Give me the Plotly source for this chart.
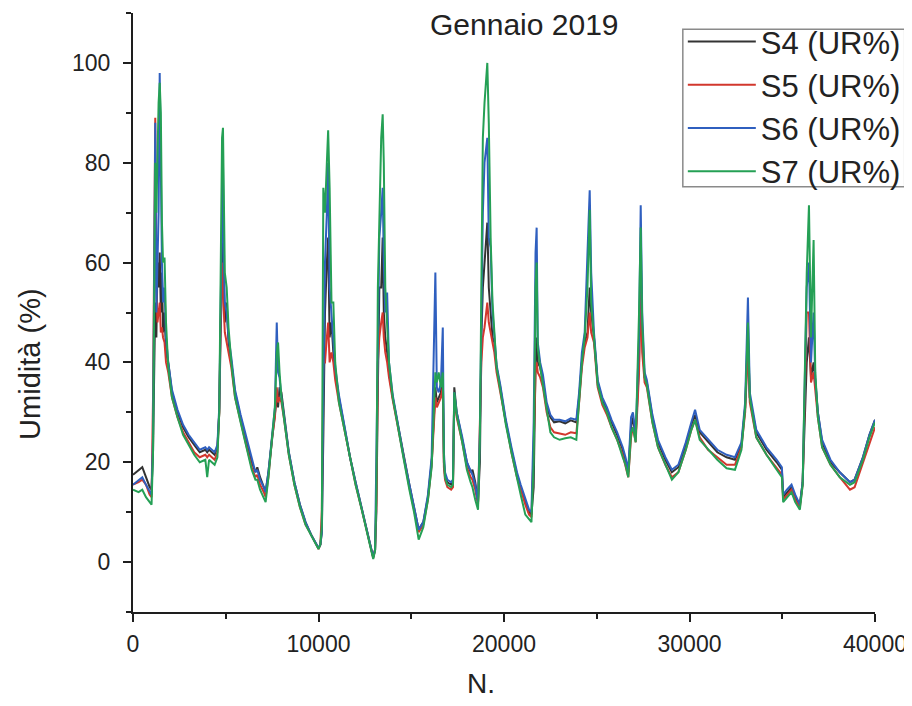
import plotly.graph_objects as go

# Sample index (N.) of the hand-read key points
n_index = [0, 300, 500, 700, 900, 1000, 1080, 1150, 1200, 1260, 1320, 1380, 1440, 1500, 1560, 1620, 1700, 1780, 1900, 2100,
           2400, 2700, 3000, 3300, 3600, 3900, 4000, 4100, 4400, 4550, 4650, 4720, 4800, 4850, 4900, 4950, 5050, 5150, 5300, 5500,
           5800, 6100, 6400, 6600, 6700, 6850, 7050, 7150, 7300, 7500, 7650, 7750, 7820, 7900, 8000, 8150, 8400, 8700, 9000, 9300,
           9600, 9900, 10000, 10100, 10180, 10260, 10350, 10450, 10520, 10600, 10700, 10800, 10900, 11100, 11400, 11700, 12000, 12300, 12600, 12850,
           12950, 13050, 13120, 13200, 13280, 13380, 13460, 13520, 13600, 13700, 13800, 14000, 14300, 14600, 14900, 15150, 15400, 15650, 15900, 16100,
           16300, 16380, 16480, 16600, 16700, 16760, 16820, 16950, 17150, 17250, 17320, 17450, 17750, 18000, 18200, 18300, 18450, 18600, 18700, 18780,
           18860, 18950, 19100, 19180, 19280, 19380, 19480, 19600, 19800, 20100, 20400, 20700, 20900, 21150, 21350, 21480, 21600, 21700, 21760, 21820,
           21950, 22100, 22300, 22500, 22700, 23000, 23300, 23600, 23900, 24050, 24200, 24350, 24500, 24620, 24700, 24850, 25050, 25300, 25550, 25800,
           26100, 26400, 26550, 26700, 26850, 26950, 27100, 27280, 27370, 27450, 27580, 27700, 28000, 28300, 28700, 29050, 29400, 29800, 30100, 30300,
           30550, 31000, 31500, 32000, 32450, 32800, 33000, 33150, 33250, 33600, 34150, 34700, 34980, 35050, 35250, 35500, 35700, 35950, 36100, 36320,
           36440, 36550, 36690, 36780, 36920, 37150, 37600, 38100, 38650, 38900, 39350, 39700, 40000]

s4_ur = [17.5, 18.5, 19, 17, 15, 14.5, 22, 40, 52, 45, 60, 55, 62, 50, 58, 46, 50, 42, 40, 34,
         30, 27, 25, 23.5, 22, 22.5, 22, 22.5, 21.5, 23, 30, 45, 60, 65, 55, 48, 52, 44, 40, 34,
         29, 24.5, 20, 18, 19, 17, 15, 14, 18, 25, 30, 33, 31, 35, 34, 29, 22, 16, 11.5, 8,
         5.5, 3.5, 2.8, 3.5, 6, 25, 50, 60, 65, 45, 48, 42, 38, 33, 27, 21, 16, 11.5, 6.5, 2.5,
         1, 2.5, 10, 35, 55, 55, 65, 50, 45, 42, 38, 33, 27, 21, 15.5, 11, 6.5, 8, 13, 20,
         35, 32, 33, 34, 38, 20, 17.5, 16, 15.5, 16, 35, 30, 24.5, 20, 18, 18.5, 16, 12, 20, 45,
         55, 60, 68, 55, 50, 45, 44, 39, 35, 28, 22.5, 17.5, 15, 12, 10, 9.5, 15, 40, 45, 40,
         39, 36.5, 31, 29, 28, 28.2, 27.8, 28.4, 28, 33, 40, 44, 46, 55, 50, 45, 36, 32.5, 30.5, 28,
         25.5, 22.5, 20.5, 18, 27, 29, 25, 40, 62, 45, 37, 36, 29, 24, 20.5, 18, 19, 23.5, 27.5, 29.5,
         26, 24, 22, 21, 20.5, 23.5, 31, 45, 33, 26, 22.5, 20, 18.5, 13, 14, 15, 13, 11.5, 16, 40,
         45, 37, 40, 36, 30, 24, 20, 18, 16, 16.5, 21, 25.5, 28.5]

s5_ur = [15.5, 16, 16.5, 15.5, 13.5, 13, 33, 60, 89, 55, 48, 50, 52, 46, 47, 45, 44, 40, 38, 33,
         29, 26, 24, 22, 21, 21.5, 21, 21.5, 20.5, 22, 30, 48, 55, 60, 50, 46, 44, 42, 39, 33,
         28, 23.5, 19, 17, 17.5, 15.5, 14, 13, 17, 25, 29, 35, 32, 33, 32, 28.5, 21.5, 15.5, 11, 7.5,
         5.5, 3.3, 2.6, 3.5, 10.5, 40, 40, 45, 48, 40, 42, 40, 36.5, 32, 26.5, 20.5, 15.5, 11, 6, 2.2,
         0.8, 2.5, 12, 40, 45, 48, 50, 45, 42, 40, 37, 32.5, 26.5, 20.5, 15, 10.5, 6, 7.5, 12.5, 19.5,
         33, 31, 32, 33, 35, 19, 16.5, 15, 14.5, 15, 33, 29, 24, 19, 17, 16.5, 14.5, 11.5, 28, 40,
         45, 47, 52, 48, 46, 44, 42, 38, 34, 27.5, 22, 17, 14.5, 11.5, 9.5, 9, 23, 38, 40, 38,
         37, 35, 30, 27, 26, 25.8, 25.5, 26, 25.8, 32, 39, 43, 45, 50, 46, 44, 35, 31.5, 29.5, 27,
         24.5, 21.5, 19.5, 17, 25, 27, 24, 38, 55, 42, 36, 35, 28, 23, 19.5, 17, 18, 22.5, 26.5, 28.5,
         25, 22.5, 21, 19.5, 19.5, 23, 30, 43, 32, 25, 21.5, 19, 17.5, 12.5, 13.5, 14.5, 12.5, 11, 15.5, 50,
         50, 36, 38, 35, 29, 23, 19.5, 17, 14.5, 15, 20, 24, 27]

s6_ur = [15.5, 16.5, 17, 15.5, 14, 13.5, 25, 55, 88, 50, 60, 70, 98, 75, 60, 52, 55, 45, 40, 34.5,
         30.5, 27.5, 25.5, 24, 22.5, 23, 22.5, 23, 22, 23.5, 31, 50, 75, 80, 60, 52, 50, 45, 41, 34.5,
         29.5, 25, 20.5, 18, 18.5, 16.5, 15, 14, 18, 26, 31, 48, 38, 37, 33, 29, 22, 16, 11.5, 8,
         5.5, 3.5, 2.8, 3.5, 6, 35, 60, 70, 80, 55, 50, 45, 39, 33.5, 27, 21, 16, 11.5, 6.5, 2.5,
         1, 2.5, 19, 45, 65, 70, 75, 60, 50, 54, 40, 33.5, 27, 21, 15.5, 11, 6.5, 8, 13.5, 21,
         58, 35, 34, 36, 47, 22, 18, 16.5, 16, 16.5, 34, 30, 25, 20, 18.5, 17.5, 15.5, 12, 26, 55,
         70, 80, 85, 65, 63, 50, 45, 39.5, 35.5, 28.5, 23, 18, 15.5, 12.5, 10.5, 10, 28, 62, 67, 44,
         40, 37.5, 32, 29.5, 28.5, 28.5, 28.2, 28.8, 28.5, 34, 42, 46, 60, 74.5, 58, 46, 36.5, 33, 31, 28.5,
         26, 23, 21, 18.5, 29, 30, 25.5, 45, 71.5, 50, 38, 36.5, 29.5, 24.5, 21, 18.5, 19.5, 24, 28, 30.5,
         26.5, 24.5, 22.5, 21.5, 21, 24, 32, 53, 34, 26.5, 23, 20.5, 19, 13.5, 14.5, 15.5, 13.5, 11.5, 16, 55,
         60, 40, 50, 37, 30, 24.5, 20.5, 18, 16, 16.5, 21, 25.5, 28.5]

s7_ur = [14.5, 14, 14.5, 13, 12, 11.5, 22, 50, 80, 70, 85, 92, 96, 90, 68, 60, 61, 48, 39, 33,
         29, 25.5, 23.5, 21.5, 20, 20.5, 17, 20.5, 19.5, 21, 30, 60, 85, 87, 75, 58, 55, 47, 40, 33,
         28, 23.5, 18.5, 16.5, 16.5, 14.5, 13, 12, 17, 25, 31, 42, 44, 38, 33, 28.5, 21.5, 15.5, 11, 7.5,
         5.5, 3.3, 2.6, 3.5, 7, 75, 70, 80, 86.5, 75, 52, 52, 40, 32, 26.5, 20.5, 15.5, 11, 6, 2.2,
         0.6, 2.3, 14, 55, 70, 85, 89.7, 80, 55, 48, 40, 33, 26.5, 20.5, 14.5, 10, 4.5, 7, 12.5, 19,
         38, 36, 38, 35, 38, 21, 17, 15.5, 15, 15.5, 34, 29.5, 24, 18.5, 16, 15, 12.5, 10.5, 25, 60,
         85, 92, 100, 88, 65, 52, 46, 39, 34.5, 27.5, 22, 16.5, 13.5, 9.5, 8.5, 8, 20, 55, 60, 43,
         39, 35.5, 30, 26, 25, 24.5, 24.8, 25, 24.5, 32, 40, 45, 55, 70.6, 52, 45, 35.5, 32, 30, 27,
         24.5, 21, 19.5, 17, 26, 27, 24, 50, 67, 48, 37, 35.5, 28, 23, 19.5, 16.5, 18, 22.5, 26.5, 28.5,
         24.5, 22.5, 20.5, 18.8, 18.5, 22.5, 31, 48, 33, 25, 21.5, 18.5, 17, 12, 13, 14, 12, 10.5, 15.5, 58,
         71.5, 45, 64.5, 38, 29, 23, 19.5, 17, 15.5, 16, 20.5, 25, 28]

series_names = ["S4 (UR%)", "S5 (UR%)", "S6 (UR%)", "S7 (UR%)"]
series_values = [s4_ur, s5_ur, s6_ur, s7_ur]
series_colors = ["#333333", "#d2372d", "#2f5fbf", "#25a055"]

x_ticks = [0, 10000, 20000, 30000, 40000]
x_tick_labels = ["0", "10000", "20000", "30000", "40000"]
y_ticks = [0, 20, 40, 60, 80, 100]
y_tick_labels = ["0", "20", "40", "60", "80", "100"]

FONT = "Arial, 'Liberation Sans', sans-serif"
AXIS_COLOR = "#1e1e1e"
TEXT_COLOR = "#222222"

fig = go.Figure()
for name, vals, col in zip(series_names, series_values, series_colors):
    fig.add_trace(go.Scatter(x=n_index, y=vals, mode="lines", name=name,
                             line=dict(color=col, width=2)))

# the page body has an 8px default margin, so the figure is sized to fit inside it
fig.update_layout(
    width=904, height=690,
    margin=dict(l=125, r=37, t=5, b=86),
    paper_bgcolor="white", plot_bgcolor="white",
    font=dict(family=FONT, color=TEXT_COLOR),
    showlegend=True,
    legend=dict(x=0.741, y=0.997, xanchor="left", yanchor="top",
                borderwidth=0, bgcolor="rgba(0,0,0,0)",
                font=dict(family=FONT, size=31, color=TEXT_COLOR),
                tracegroupgap=0, itemwidth=68),
    shapes=[
        # legend frame
        dict(type="rect", xref="paper", yref="paper", x0=0.741, x1=1.040, y0=0.710, y1=0.973,
             line=dict(color="#8a8a8a", width=1.5), fillcolor="rgba(0,0,0,0)", layer="above"),
    ],
    annotations=[
        dict(text="Gennaio 2019", xref="paper", yref="paper", x=0.527, y=0.980,
             xanchor="center", yanchor="middle", showarrow=False,
             font=dict(family=FONT, size=30, color=TEXT_COLOR)),
        dict(text="Umidità (%)", xref="paper", yref="paper", x=-0.139, y=0.414,
             xanchor="center", yanchor="middle", textangle=-90, showarrow=False,
             font=dict(family=FONT, size=29, color=TEXT_COLOR)),
        dict(text="N.", xref="paper", yref="paper", x=0.469, y=-0.120,
             xanchor="center", yanchor="middle", showarrow=False,
             font=dict(family=FONT, size=28, color=TEXT_COLOR)),
    ],
)

fig.update_xaxes(range=[0, 40000], tickvals=x_ticks, ticktext=x_tick_labels, automargin=False,
                 showline=True, linecolor=AXIS_COLOR, linewidth=2, mirror=False,
                 ticks="outside", ticklen=8, tickwidth=2, tickcolor=AXIS_COLOR,
                 minor=dict(dtick=5000, ticks="outside", ticklen=5, tickwidth=2, tickcolor=AXIS_COLOR),
                 showgrid=False, zeroline=False, ticklabelstandoff=2,
                 tickfont=dict(family=FONT, size=23, color=TEXT_COLOR))
fig.update_yaxes(range=[-10, 110], tickvals=y_ticks, ticktext=y_tick_labels, automargin=False,
                 showline=True, linecolor=AXIS_COLOR, linewidth=2, mirror=False,
                 ticks="outside", ticklen=8, tickwidth=2, tickcolor=AXIS_COLOR,
                 minor=dict(dtick=10, ticks="outside", ticklen=5, tickwidth=2, tickcolor=AXIS_COLOR),
                 showgrid=False, zeroline=False, ticklabelstandoff=8,
                 tickfont=dict(family=FONT, size=23, color=TEXT_COLOR))

fig.write_html("out.html")
